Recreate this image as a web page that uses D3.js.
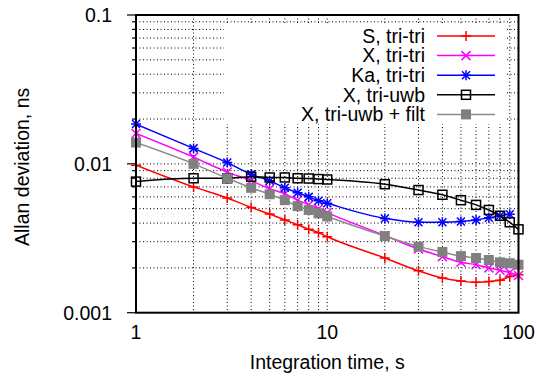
<!DOCTYPE html>
<html><head><meta charset="utf-8">
<script src="https://cdn.jsdelivr.net/npm/d3@7/dist/d3.min.js"></script>
<style>body{margin:0;background:#fff}svg{display:block}text{font-family:"Liberation Sans",Arial,sans-serif;}</style>
</head><body>
<script>
const tau = [1,2,3,4,5,6,7,8,9,10,20,30,40,50,60,70,80,90,100];
const tauKa = [1,2,3,4,5,6,7,8,9,10,20,30,40,50,60,70,80,90];
const sTriTri  = [0.0098,0.0070,0.0059,0.0051,0.0046,0.0042,0.0039,0.00363,0.00345,0.00324,0.00233,0.00191,0.00171,0.00163,0.00160,0.00162,0.00165,0.00175,0.00180];
const xTriTri  = [0.0160,0.0111,0.0088,0.0077,0.0068,0.0063,0.0057,0.0053,0.0050,0.0047,0.0033,0.00268,0.00238,0.00218,0.00210,0.00200,0.00193,0.00186,0.00178];
const kaTriTri = [0.0185,0.0127,0.0102,0.0085,0.0077,0.0069,0.0064,0.0060,0.00565,0.00543,0.0043,0.00405,0.00405,0.0041,0.0042,0.00434,0.00448,0.00458];
const xTriUwb  = [0.0076,0.0080,0.0080,0.0082,0.0081,0.0081,0.0080,0.00797,0.0079,0.00785,0.0073,0.00667,0.0062,0.0057,0.0053,0.0049,0.00448,0.00405,0.00363];
const xTriUwbFilt = [0.0139,0.0100,0.0080,0.0069,0.00625,0.0057,0.0052,0.0049,0.00465,0.00443,0.00327,0.00278,0.00256,0.0024,0.00233,0.00226,0.00218,0.00215,0.0021];
const seriesNames = ["S, tri-tri","X, tri-tri","Ka, tri-tri","X, tri-uwb","X, tri-uwb + filt"];
const xTickLabels = ["1","10","100"];
const yTickLabels = ["0.001","0.01","0.1"];

const W=537,H=376;
const L=136,R=518.5,T=15,B=312.7;
const FS=19.5;
const svg=d3.select("body").append("svg").attr("width",W).attr("height",H);
const x=d3.scaleLog().domain([1,100]).range([L,R]);
const y=d3.scaleLog().domain([0.001,0.1]).range([B,T]);

const xGrid=[],yGrid=[];
for(let d=1;d<100;d*=10) for(let k=1;k<10;k++) xGrid.push(k*d);
xGrid.push(100);
for(let d=0.001;d<0.1-1e-9;d*=10) for(let k=1;k<10;k++) yGrid.push(k*d);
yGrid.push(0.1);

const g=svg.append("g");
g.selectAll(".gx").data(xGrid.filter(v=>v>1&&v<100)).enter().append("line")
 .attr("x1",d=>x(d)).attr("x2",d=>x(d)).attr("y1",T).attr("y2",B)
 .attr("stroke","#000").attr("stroke-width",1).attr("stroke-dasharray","1,2.5");
g.selectAll(".gy").data(yGrid.filter(v=>v>0.00100001&&v<0.0999)).enter().append("line")
 .attr("y1",d=>y(d)).attr("y2",d=>y(d)).attr("x1",L).attr("x2",R)
 .attr("stroke","#000").attr("stroke-width",1).attr("stroke-dasharray","1,2.5");

const isMajor=v=>Math.abs(Math.log10(v)-Math.round(Math.log10(v)))<1e-6;
g.selectAll(".ty").data(yGrid).enter().append("line")
 .attr("y1",d=>y(d)).attr("y2",d=>y(d)).attr("x1",d=>L-(isMajor(d)?9:4)).attr("x2",L)
 .attr("stroke","#000").attr("stroke-width",1.2);

svg.selectAll(".yl").data(yTickLabels).enter().append("text")
 .attr("x",112).attr("y",d=>y(+d)).attr("dy","0.35em").attr("text-anchor","end")
 .attr("font-size",FS).text(d=>d);
svg.selectAll(".xl").data(xTickLabels).enter().append("text")
 .attr("x",d=>x(+d)).attr("y",339).attr("text-anchor","middle")
 .attr("font-size",FS).text(d=>d);
svg.append("text").attr("x",(L+R)/2).attr("y",369).attr("text-anchor","middle")
 .attr("font-size",FS).text("Integration time, s");
svg.append("text").attr("transform","translate(29,"+((T+B)/2+3)+") rotate(-90)")
 .attr("text-anchor","middle").attr("font-size",FS).text("Allan deviation, ns");

svg.append("clipPath").attr("id","clip").append("rect").attr("x",L).attr("y",T).attr("width",R-L).attr("height",B-T);

const series=[
 {name:seriesNames[0],xs:tau,ys:sTriTri,color:"#ff0000",marker:"plus"},
 {name:seriesNames[1],xs:tau,ys:xTriTri,color:"#ff00ff",marker:"cross"},
 {name:seriesNames[2],xs:tauKa,ys:kaTriTri,color:"#0000ff",marker:"star"},
 {name:seriesNames[3],xs:tau,ys:xTriUwb,color:"#000000",marker:"square"},
 {name:seriesNames[4],xs:tau,ys:xTriUwbFilt,color:"#808080",lineColor:"#8c8c8c",marker:"fsquare"}
];

function drawMarker(sel,type,color,cx,cy){
  const s=5;
  if(type==="plus"||type==="star"){
    sel.append("path").attr("d",`M${cx-s},${cy}H${cx+s}M${cx},${cy-s}V${cy+s}`).attr("stroke",color).attr("stroke-width",1.5).attr("fill","none");
  }
  if(type==="cross"||type==="star"){
    const c=type==="star"?4:4.5;
    sel.append("path").attr("d",`M${cx-c},${cy-c}L${cx+c},${cy+c}M${cx-c},${cy+c}L${cx+c},${cy-c}`).attr("stroke",color).attr("stroke-width",1.5).attr("fill","none");
  }
  if(type==="square"){
    sel.append("rect").attr("x",cx-4.5).attr("y",cy-4.5).attr("width",9).attr("height",9).attr("fill","none").attr("stroke",color).attr("stroke-width",1.5);
  }
  if(type==="fsquare"){
    sel.append("rect").attr("x",cx-5).attr("y",cy-5).attr("width",10).attr("height",10).attr("fill",color).attr("stroke","none");
  }
}

const line=d3.line().x(d=>x(d[0])).y(d=>y(d[1])).curve(d3.curveMonotoneX);
const plot=svg.append("g");
series.forEach(s=>{
  const pts=s.xs.map((v,i)=>[v,s.ys[i]]);
  const gs=plot.append("g");
  gs.append("path").attr("d",line(pts)).attr("fill","none").attr("stroke",s.lineColor||s.color).attr("stroke-width",1.5).attr("clip-path","url(#clip)");
  pts.forEach(p=>drawMarker(gs,s.marker,s.color,x(p[0]),y(p[1])));
});

const lg=svg.append("g");
lg.append("rect").attr("x",224).attr("y",24).attr("width",281).attr("height",100).attr("fill","#fff");
series.forEach((s,i)=>{
  const yy=36+i*19.6;
  lg.append("text").attr("x",425).attr("y",yy).attr("dy","0.35em").attr("text-anchor","end").attr("font-size",FS).text(s.name);
  lg.append("line").attr("x1",437).attr("x2",495).attr("y1",yy).attr("y2",yy).attr("stroke",s.lineColor||s.color).attr("stroke-width",1.5);
  drawMarker(lg,s.marker,s.color,466,yy);
});

svg.append("rect").attr("x",L).attr("y",T).attr("width",R-L).attr("height",B-T).attr("fill","none").attr("stroke","#000").attr("stroke-width",2);
</script>
</body></html>
